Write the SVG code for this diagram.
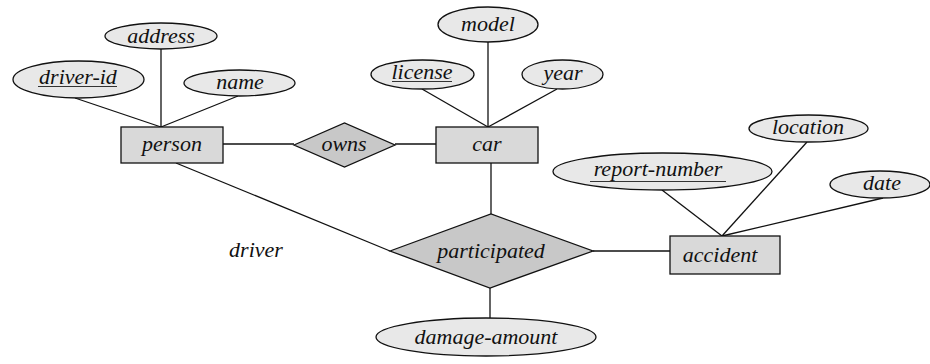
<svg xmlns="http://www.w3.org/2000/svg" width="930" height="364" viewBox="0 0 930 364">
<style>
text{font-family:'Liberation Serif','Times New Roman',serif;font-style:italic;font-size:22px;fill:#111;text-anchor:middle}
.ent{fill:#d9d9d9;stroke:#111;stroke-width:1.3}
.rel{fill:#c8c8c8;stroke:#111;stroke-width:1.3}
.att{fill:#e8e8e8;stroke:#111;stroke-width:1.3}
.ul{stroke:#333;stroke-width:1.2}
#connectors line{stroke:#111;stroke-width:1.3}
</style>
<rect width="930" height="364" fill="#fff"/>
<g id="connectors">
<line x1="161" y1="49" x2="161" y2="127"/>
<line x1="75" y1="98" x2="161" y2="127"/>
<line x1="238" y1="96" x2="161" y2="127"/>
<line x1="223" y1="144" x2="294" y2="144"/>
<line x1="395" y1="144" x2="436" y2="144"/>
<line x1="488" y1="42" x2="488" y2="127"/>
<line x1="422" y1="89" x2="488" y2="127"/>
<line x1="557" y1="89" x2="488" y2="127"/>
<line x1="491" y1="163" x2="491" y2="214"/>
<line x1="176" y1="163" x2="390" y2="251"/>
<line x1="593" y1="251" x2="670" y2="251"/>
<line x1="490" y1="288" x2="490" y2="318"/>
<line x1="662" y1="190" x2="722" y2="236"/>
<line x1="807" y1="142" x2="722" y2="236"/>
<line x1="883" y1="198" x2="722" y2="236"/>
</g>
<g id="address"><ellipse class="att" cx="161" cy="36" rx="56" ry="13"/><text x="161" y="43">address</text></g>
<g id="driver-id"><ellipse class="att" cx="78.5" cy="79.5" rx="65.5" ry="18.5"/><text x="78" y="84">driver-id</text><line class="ul" x1="38" y1="86.5" x2="117" y2="86.5"/></g>
<g id="name"><ellipse class="att" cx="239.5" cy="83" rx="55.5" ry="13"/><text x="240" y="89">name</text></g>
<g id="person"><rect class="ent" x="121" y="127" width="102" height="36"/><text x="172" y="151">person</text></g>
<g id="owns"><polygon class="rel" points="294,145 344.5,123 395,145 344.5,167"/><text x="344" y="151">owns</text></g>
<g id="model"><ellipse class="att" cx="488" cy="24.5" rx="50" ry="17.5"/><text x="488" y="31">model</text></g>
<g id="license"><ellipse class="att" cx="422.5" cy="74.5" rx="51.5" ry="14.5"/><text x="422" y="79">license</text><line class="ul" x1="392" y1="81.5" x2="452" y2="81.5"/></g>
<g id="year"><ellipse class="att" cx="562.5" cy="74.5" rx="40.5" ry="14.5"/><text x="563" y="80">year</text></g>
<g id="car"><rect class="ent" x="436" y="127" width="102" height="36"/><text x="487" y="151">car</text></g>
<g id="participated"><polygon class="rel" points="390,251 491,214 593,251 490,288"/><text x="491" y="258">participated</text></g>
<g id="driver-label"><text x="256" y="257">driver</text></g>
<g id="damage-amount"><ellipse class="att" cx="486" cy="337" rx="110" ry="19"/><text x="486" y="344">damage-amount</text></g>
<g id="location"><ellipse class="att" cx="808.5" cy="128.5" rx="59.5" ry="13.5"/><text x="808" y="134">location</text></g>
<g id="report-number"><ellipse class="att" cx="662.5" cy="171.5" rx="109.5" ry="18.5"/><text x="658" y="176">report-number</text><line class="ul" x1="590" y1="181.5" x2="726" y2="181.5"/></g>
<g id="date"><ellipse class="att" cx="880" cy="184.5" rx="50" ry="13.5"/><text x="882" y="190">date</text></g>
<g id="accident"><rect class="ent" x="670" y="236" width="110" height="38"/><text x="720" y="262">accident</text></g>
</svg>
